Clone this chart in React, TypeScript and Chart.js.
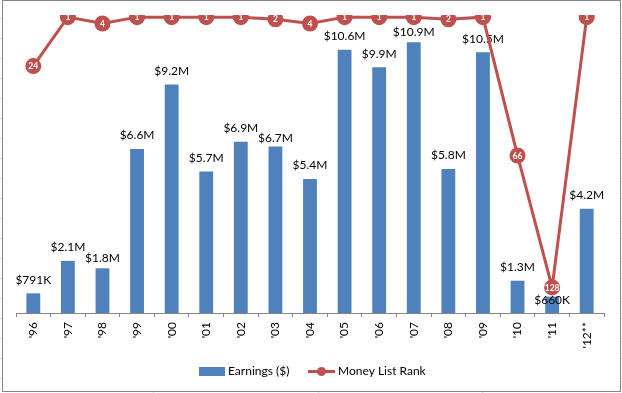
import React, { useEffect, useRef } from "react";
import { Chart, registerables } from "chart.js";

Chart.register(...registerables);

const years = ["'96", "'97", "'98", "'99", "'00", "'01", "'02", "'03", "'04", "'05", "'06", "'07", "'08", "'09", "'10", "'11", "'12**"];
// earnings in millions of dollars
const earnings = [0.791, 2.1, 1.8, 6.6, 9.2, 5.7, 6.9, 6.7, 5.4, 10.6, 9.9, 10.9, 5.8, 10.5, 1.3, 0.66, 4.2];
const earningsLabels = ["$791K", "$2.1M", "$1.8M", "$6.6M", "$9.2M", "$5.7M", "$6.9M", "$6.7M", "$5.4M", "$10.6M", "$9.9M", "$10.9M", "$5.8M", "$10.5M", "$1.3M", "$660K", "$4.2M"];
const ranks = [24, 1, 4, 1, 1, 1, 1, 2, 4, 1, 1, 1, 2, 1, 66, 128, 1];

// small manual label nudges (px, downward) as in the original
const labelNudge = [0, 0, 3.5, 0, 0, 0, 0, 5, 0, 0, 0, 3, 0, 0, 0, 17.5, 0];

const BAR = "#4F81BD";
const LINE = "#C0504D";
const FONT = "Lato, 'Liberation Sans', sans-serif";

const decor = {
  id: "decor",
  beforeDraw(chart: any) {
    const ctx = chart.ctx;
    ctx.save();
    ctx.fillStyle = "#ffffff";
    ctx.fillRect(0, 0, chart.width, chart.height);
    // spreadsheet gridlines peeking around the chart
    ctx.strokeStyle = "#D0D7E5";
    ctx.lineWidth = 1;
    for (let y = 18.5; y < chart.height; y += 20) {
      ctx.beginPath();
      ctx.moveTo(0, y);
      ctx.lineTo(chart.width, y);
      ctx.stroke();
    }
    [153.5, 318.5, 482.5].forEach((x) => {
      ctx.beginPath();
      ctx.moveTo(x, 0);
      ctx.lineTo(x, chart.height);
      ctx.stroke();
    });
    ctx.fillStyle = "#ffffff";
    ctx.fillRect(2.5, 0.5, 618, 391);
    ctx.strokeStyle = "#868686";
    ctx.strokeRect(2.5, 0.5, 618, 391);
    ctx.restore();
  },
  afterDatasetDraw(chart: any, args: any) {
    if (args.index !== 1) return;
    const ctx = chart.ctx;
    ctx.save();
    const barMeta = chart.getDatasetMeta(1);
    ctx.font = `12px ${FONT}`;
    ctx.fillStyle = "#000000";
    ctx.textAlign = "center";
    ctx.textBaseline = "middle";
    barMeta.data.forEach((el: any, i: number) => {
      ctx.fillText(earningsLabels[i], el.x, el.y - 13.5 + labelNudge[i]);
    });
    ctx.restore();
  },
  afterDraw(chart: any) {
    const ctx = chart.ctx;
    const xScale = chart.scales.x;
    ctx.save();
    ctx.textBaseline = "middle";
    // rank labels
    const lineMeta = chart.getDatasetMeta(0);
    ctx.font = `bold 8.5px ${FONT}`;
    ctx.fillStyle = "#ffffff";
    ctx.textAlign = "center";
    lineMeta.data.forEach((el: any, i: number) => {
      ctx.fillText(String(ranks[i]), el.x, el.y + 0.5);
    });
    // rotated category labels (end of text next to the axis)
    ctx.font = `12px ${FONT}`;
    ctx.fillStyle = "#000000";
    ctx.textAlign = "right";
    years.forEach((lab, i) => {
      const x = xScale.getPixelForValue(i);
      ctx.save();
      ctx.translate(x, 322);
      ctx.rotate(-Math.PI / 2);
      ctx.fillText(lab, 0, 0);
      ctx.restore();
    });
    // legend
    ctx.textAlign = "left";
    ctx.fillStyle = BAR;
    ctx.fillRect(199, 367, 26, 9);
    ctx.fillStyle = "#000000";
    ctx.fillText("Earnings ($)", 228, 371.5);
    ctx.strokeStyle = LINE;
    ctx.lineWidth = 3;
    ctx.beginPath();
    ctx.moveTo(308, 371.5);
    ctx.lineTo(335, 371.5);
    ctx.stroke();
    ctx.fillStyle = LINE;
    ctx.beginPath();
    ctx.arc(321.5, 371.5, 4.5, 0, Math.PI * 2);
    ctx.fill();
    ctx.fillStyle = "#000000";
    ctx.fillText("Money List Rank", 338, 371.5);
    ctx.restore();
  },
};

export default function App() {
  const ref = useRef<HTMLCanvasElement>(null);
  useEffect(() => {
    if (!ref.current) return;
    const chart = new Chart(ref.current, {
      type: "bar",
      data: {
        labels: years,
        datasets: [
          {
            type: "line",
            label: "Money List Rank",
            data: ranks,
            yAxisID: "y2",
            borderColor: LINE,
            backgroundColor: LINE,
            borderWidth: 3,
            pointRadius: 8,
            pointBorderWidth: 0,
            pointBackgroundColor: LINE,
            tension: 0,
            order: 0,
          } as any,
          {
            type: "bar",
            label: "Earnings ($)",
            data: earnings,
            yAxisID: "y",
            backgroundColor: BAR,
            barPercentage: 0.4,
            categoryPercentage: 1,
            order: 1,
          },
        ],
      },
      options: {
        responsive: false,
        animation: false,
        layout: { padding: { left: 16, right: 18, top: 15, bottom: 76 } },
        plugins: { legend: { display: false }, tooltip: { enabled: false } },
        scales: {
          x: {
            offset: true,
            grid: { display: true, drawOnChartArea: false, drawTicks: true, tickLength: 4, color: "#868686", offset: true },
            border: { display: true, color: "#868686" },
            ticks: { display: false },
          },
          y: { display: false, min: 0, max: 12 },
          y2: { display: false, min: 0, max: 140, reverse: true },
        },
      },
      plugins: [decor],
    });
    return () => chart.destroy();
  }, []);
  return (
    <div style={{ position: "absolute", left: 0, top: 0, width: 622, height: 393 }}>
      <canvas ref={ref} width={622} height={393} style={{ display: "block" }} />
    </div>
  );
}
